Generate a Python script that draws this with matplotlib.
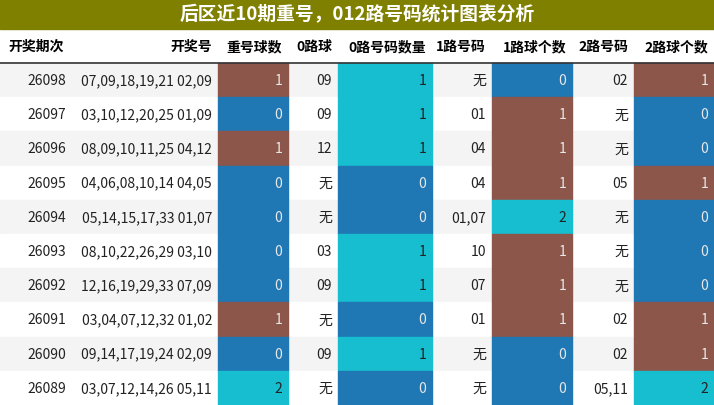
import matplotlib
matplotlib.use("Agg")
import matplotlib.pyplot as plt
from matplotlib.patches import Rectangle

plt.rcParams['font.family'] = ['Liberation Sans Narrow', 'Noto Sans CJK SC', 'DejaVu Sans']

title = "后区近10期重号，012路号码统计图表分析"
headers = ["开奖期次", "开奖号", "重号球数", "0路球", "0路号码数量", "1路号码", "1路球个数", "2路号码", "2路球个数"]
periods = ["26098","26097","26096","26095","26094","26093","26092","26091","26090","26089"]
draws = ["07,09,18,19,21 02,09","03,10,12,20,25 01,09","08,09,10,11,25 04,12","04,06,08,10,14 04,05",
         "05,14,15,17,33 01,07","08,10,22,26,29 03,10","12,16,19,29,33 07,09","03,04,07,12,32 01,02",
         "09,14,17,19,24 02,09","03,07,12,14,26 05,11"]
repeat = [1,0,1,0,0,0,0,1,0,2]
road0 = ["09","09","12","无","无","03","09","无","09","无"]
road0_n = [1,1,1,0,0,1,1,0,1,0]
road1 = ["无","01","04","04","01,07","10","07","01","无","无"]
road1_n = [0,1,1,1,2,1,1,1,0,0]
road2 = ["02","无","无","05","无","无","无","02","02","05,11"]
road2_n = [1,0,0,1,0,0,0,1,1,2]

BLUE, BROWN, CYAN = "#1f77b4", "#8c564b", "#17becf"
cmap_std = {0: BLUE, 1: BROWN, 2: CYAN}
cmap_r0 = {0: BLUE, 1: CYAN}

W, H = 714, 406
edges = [0, 72, 218, 288, 338, 432, 492, 572, 634, 714]
title_h = 30
head_h = 34
row_h = (H - title_h - head_h) / 10

fig = plt.figure(figsize=(W/100, H/100), dpi=100)
ax = fig.add_axes([0, 0, 1, 1])
ax.set_xlim(0, W); ax.set_ylim(H, 0); ax.axis('off')

ax.add_patch(Rectangle((0, 0), W, title_h, color="#808000"))
ax.text(W/2, title_h/2, title, color="white", fontsize=13.5, fontweight='bold',
        ha='center', va='center', family=['Noto Sans CJK SC', 'DejaVu Sans'])

for j, h in enumerate(headers):
    x = edges[j] + 8 if j == 0 else edges[j+1] - 6
    ax.text(x, title_h + head_h/2, h, fontsize=10, fontweight='bold',
            ha='left' if j == 0 else 'right', va='center')
ax.plot([0, W], [title_h + head_h, title_h + head_h], color="#333333", lw=1.2)

cols = [periods, draws, repeat, road0, road0_n, road1, road1_n, road2, road2_n]
cmaps = {2: cmap_std, 4: cmap_r0, 6: cmap_std, 8: cmap_std}
for i in range(10):
    y0 = title_h + head_h + i * row_h
    ax.add_patch(Rectangle((0, y0), W, row_h, color="#f4f4f4" if i % 2 == 0 else "white", zorder=0))
    for j, col in enumerate(cols):
        v = col[i]
        tc = "#222222"
        if j in cmaps:
            c = cmaps[j][v]
            ax.add_patch(Rectangle((edges[j], y0), edges[j+1]-edges[j], row_h, color=c, zorder=1))
            tc = "#222222" if c == CYAN else "#e8e8e8"
        ax.text(edges[j+1] - 6, y0 + row_h/2, str(v), fontsize=10, color=tc,
                ha='right', va='center', zorder=2)

fig.savefig("out.png", dpi=100)
